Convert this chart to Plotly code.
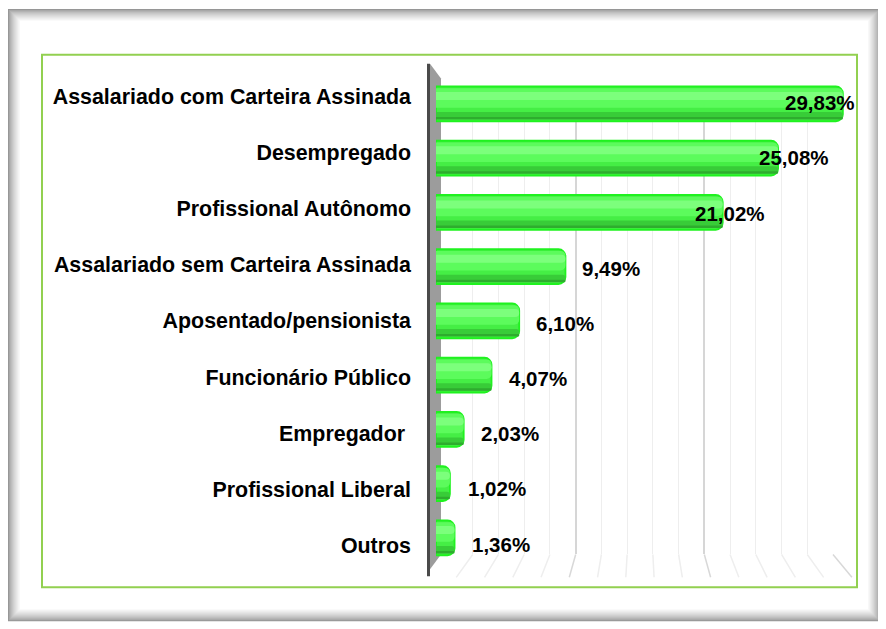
import plotly.graph_objects as go

categories = [
    "Assalariado com Carteira Assinada",
    "Desempregado",
    "Profissional Autônomo",
    "Assalariado sem Carteira Assinada",
    "Aposentado/pensionista",
    "Funcionário Público",
    "Empregador ",
    "Profissional Liberal",
    "Outros",
]
values = [29.83, 25.08, 21.02, 9.49, 6.10, 4.07, 2.03, 1.02, 1.36]
value_labels = ["29,83%", "25,08%", "21,02%", "9,49%", "6,10%", "4,07%", "2,03%", "1,02%", "1,36%"]

# style: horizontal shift (px) of each value label relative to bar end
label_shift = [-60, -21, -30, 15, 15, 15, 15, 16, 15]

OFF = 8                      # page body margin
W, H = 886 - OFF, 629 - OFF
FONT = "Liberation Sans, Arial, sans-serif"
FS_CAT = 21.4
FS_VAL = 20.5


def px(x):
    return (x - OFF) / W


def py(y):
    return 1 - (y - OFF) / H


n = len(categories)

# geometry (page pixels)
back_x0, back_x1 = 447, 833       # back wall gridline span
grid_top, grid_bot = 85, 557
lab_first, lab_step = 96, 56.5     # front-plane category label centres
bar_x0, bar_scale = 436, 13.64     # bars plane
bar_first, bar_step = 103.5, 54.6
xmax = 30

fig = go.Figure()

# invisible trace carrying the category labels on the grid subplot
fig.add_trace(go.Scatter(x=values, y=categories, mode="markers",
                         marker=dict(opacity=0), hoverinfo="skip",
                         showlegend=False, xaxis="x", yaxis="y"))

bar_w = 0.64
common = dict(x=values, y=categories, orientation="h", xaxis="x2", yaxis="y2",
              showlegend=False, hoverinfo="skip")
# base cylinder body
fig.add_trace(go.Bar(width=bar_w,
                     marker=dict(color="#45ee45", line=dict(color="#1ff21f", width=1.8),
                                 cornerradius=7), **common))
# soft upper glow
fig.add_trace(go.Bar(width=0.36, offset=-0.29,
                     marker=dict(color="#5cfb5c", line=dict(width=0), cornerradius=5), **common))
# upper highlight
fig.add_trace(go.Bar(width=0.15, offset=-0.22,
                     marker=dict(color="#7cff7c", line=dict(width=0), cornerradius=4), **common))
# lower shade
fig.add_trace(go.Bar(width=0.13, offset=0.15,
                     marker=dict(color="#38cc38", line=dict(width=0), cornerradius=4), **common))
fig.add_trace(go.Bar(width=0.05, offset=0.24,
                     marker=dict(color="#2eac2e", line=dict(width=0), cornerradius=3), **common))

# value labels
annotations = []
for i, (v, t) in enumerate(zip(values, value_labels)):
    annotations.append(dict(x=v, y=i, xref="x2", yref="y3", text=t, showarrow=False,
                            xanchor="left", yanchor="middle", xshift=label_shift[i],
                            font=dict(family=FONT, size=FS_VAL, color="#000000", weight="bold")))

# y-range for label overlay axis (mid depth between labels and bars) + slight down shift
lbl_first, lbl_step = (lab_first + bar_first) / 2 + 2.5, (lab_step + bar_step) / 2
y2_top = bar_first - bar_step / 2
y2_bot = bar_first + bar_step * (n - 0.5)
y3_r_top = -(lbl_first - y2_top) / lbl_step
y3_r_bot = y3_r_top + (y2_bot - y2_top) / lbl_step

# grid subplot y range (category units)
y_r_top = -(lab_first - grid_top) / lab_step
y_r_bot = y_r_top + (grid_bot - grid_top) / lab_step

shapes = []
# outer inset-shadow frame
fx0, fy0, fx1, fy1 = 8, 8, 880, 624
steps = 13
for k in range(steps):
    t = k / (steps - 1)
    g = int(150 + (255 - 150) * (t ** 0.7))
    shapes.append(dict(type="rect", xref="paper", yref="paper",
                       x0=px(fx0 + k + 0.5), x1=px(fx1 - k - 0.5),
                       y0=py(fy1 - k - 0.5), y1=py(fy0 + k + 0.5),
                       line=dict(color=f"rgb({g},{g},{g})", width=1.2), layer="below"))
# green chart-area border
shapes.append(dict(type="rect", xref="paper", yref="paper",
                   x0=px(42), x1=px(857), y0=py(590), y1=py(54),
                   line=dict(color="#92d050", width=2), layer="below"))
# floor lines (perspective continuation of gridlines)
for v in range(2, xmax + 1, 2):
    bx = back_x0 + (back_x1 - back_x0) * v / xmax
    fx = 428 + 14.13 * v
    col = "#d8d8d8" if v % 10 == 0 else "#eeeeee"
    shapes.append(dict(type="line", xref="paper", yref="paper",
                       x0=px(bx), y0=py(grid_bot), x1=px(fx), y1=py(580),
                       line=dict(color=col, width=1.5), layer="below"))
# side wall (gray) and its dark edge
shapes.append(dict(type="path", xref="paper", yref="paper",
                   path=f"M {px(430)},{py(63)} L {px(441)},{py(78)} L {px(441)},{py(557)} L {px(430)},{py(572)} Z",
                   fillcolor="#9c9c9c", line=dict(width=0), layer="below"))
shapes.append(dict(type="line", xref="paper", yref="paper",
                   x0=px(428.5), x1=px(428.5), y0=py(63), y1=py(579),
                   line=dict(color="#4a4a4a", width=3), layer="below"))

fig.update_layout(
    width=W, height=H,
    margin=dict(l=0, r=0, t=0, b=0),
    paper_bgcolor="white", plot_bgcolor="rgba(0,0,0,0)",
    barmode="overlay",
    showlegend=False,
    font=dict(family=FONT, size=FS_CAT, color="#000000"),
    xaxis=dict(domain=[px(back_x0), px(back_x1)], range=[0, xmax], anchor="y",
               showticklabels=False, ticks="", zeroline=False, showline=False,
               showgrid=True, dtick=10, gridcolor="#d6d6d6", gridwidth=1.6,
               minor=dict(dtick=2, showgrid=True, gridcolor="#eeeeee", gridwidth=1.3),
               fixedrange=True),
    yaxis=dict(domain=[py(grid_bot), py(grid_top)], type="category",
               categoryorder="array", categoryarray=categories,
               range=[y_r_bot, y_r_top], anchor="x", showgrid=False, zeroline=False,
               showline=False, ticks="", ticklabelstandoff=35,
               tickfont=dict(family=FONT, size=FS_CAT, color="#000000", weight="bold"),
               fixedrange=True),
    xaxis2=dict(domain=[px(bar_x0), px(bar_x0 + bar_scale * xmax)], range=[0, xmax],
                anchor="y2", visible=False, fixedrange=True),
    yaxis2=dict(domain=[py(y2_bot), py(y2_top)], type="category",
                categoryorder="array", categoryarray=categories,
                range=[n - 0.5, -0.5], anchor="x2", visible=False, fixedrange=True),
    yaxis3=dict(overlaying="y2", type="linear", range=[y3_r_bot, y3_r_top],
                anchor="x2", visible=False, fixedrange=True),
    shapes=shapes,
    annotations=annotations,
)

fig.write_html("out.html")
